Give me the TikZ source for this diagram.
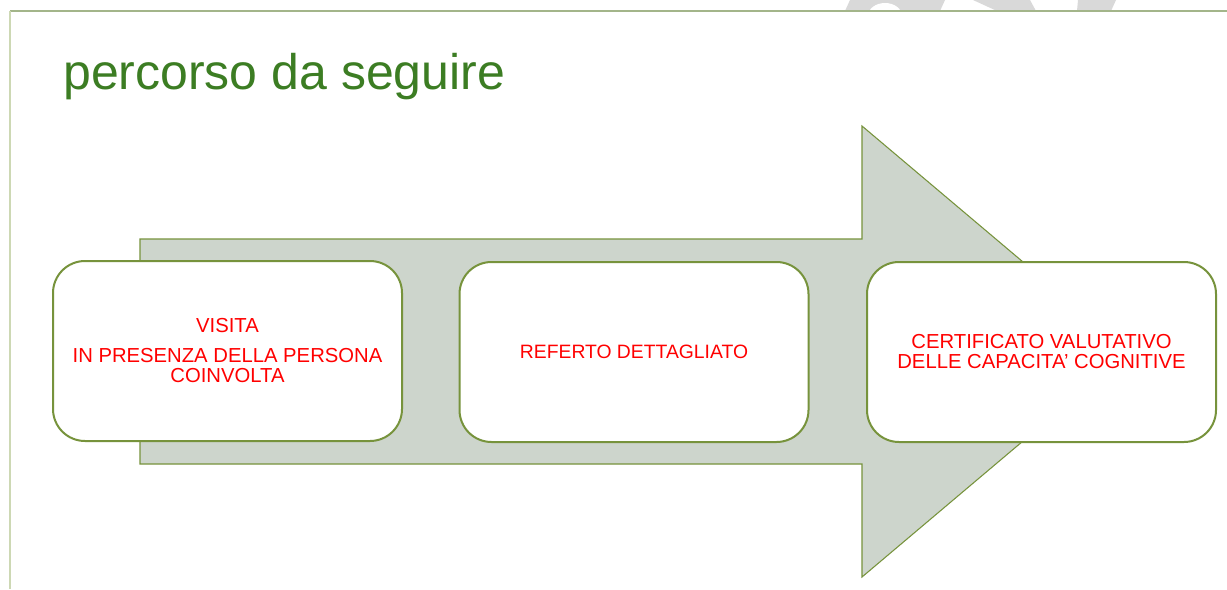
\documentclass[tikz,border=0pt]{standalone}
\usepackage{fontspec}
\setmainfont{Liberation Sans}
\definecolor{olive}{RGB}{119,147,60}
\definecolor{arrowfill}{RGB}{205,213,204}
\definecolor{titlegreen}{RGB}{60,125,35}
\definecolor{topline}{RGB}{163,181,138}
\definecolor{leftline}{RGB}{205,216,180}
\definecolor{wmgrey}{RGB}{217,217,217}
\definecolor{boxred}{RGB}{255,0,0}
\begin{document}
\begin{tikzpicture}[x=0.75pt,y=-0.75pt,
  stepbox/.style={draw=olive,line width=1.5pt,fill=white,rounded corners=24pt,
    minimum width=261.75pt,minimum height=135pt,inner sep=0pt,align=center,
    text=boxred,font=\fontsize{15.2}{15}\selectfont},
  bigarrow/.style={draw=olive,line width=0.8pt,fill=arrowfill}]
\useasboundingbox (0,0) rectangle (1227,589);
\fill[white] (0,0) rectangle (1227,589);
% watermark fragments at top
\begin{scope}
\clip (0,0) rectangle (1227,11);
\fill[wmgrey] (845,11) -- (850,0) -- (945,0) -- (940,11) -- cycle;
\fill[white] (885,16) ellipse [x radius=17, y radius=13];
\fill[wmgrey] (973,0) -- (1030,0) -- (1036,11) -- (997,11) -- cycle;
\fill[wmgrey] (1078,0) -- (1116,0) -- (1111,11) -- (1077,11) -- cycle;
\end{scope}
% frame lines
\draw[topline,line width=0.9pt] (10,11) -- (1227,11);
\draw[leftline,line width=0.9pt] (10,11) -- (10,589);
% title
\node[anchor=base west,inner sep=0pt,text=titlegreen,font=\fontsize{37.5}{40}\selectfont] (title) at (63,89) {percorso da seguire};
% big arrow
\draw[bigarrow] (140,239) -- (862,239) -- (862,126) -- (1129,351.5) -- (862,577) -- (862,464) -- (140,464) -- cycle;
% boxes
\node[stepbox] (b1) at (227.5,351) {VISITA\\[7.5pt] IN PRESENZA DELLA PERSONA\\ COINVOLTA};
\node[stepbox,font=\fontsize{14.5}{15}\selectfont] (b2) at (634,352) {REFERTO DETTAGLIATO};
\node[stepbox] (b3) at (1041.5,352) {CERTIFICATO VALUTATIVO\\ DELLE CAPACITA’ COGNITIVE};
\end{tikzpicture}
\end{document}
